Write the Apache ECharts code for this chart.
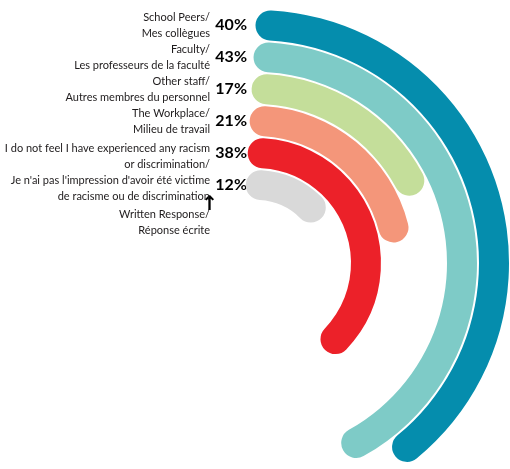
<!DOCTYPE HTML>
<html>
<head>
    <meta http-equiv="content-type" content="text/html;charset=utf-8">
    <script src="https://cdn.jsdelivr.net/npm/echarts@6/dist/echarts.min.js"></script>
    <title>Racism sources</title>
    <style>
        html, body { margin: 0; padding: 0; background: #fff; }
        #main { width: 510px; height: 469px; }
    </style>
</head>
<body>
    <div id="main"></div>
    <script>
        // categories from the inner ring to the outer ring
        var cats = ['Written Response', 'No racism', 'The Workplace', 'Other staff', 'Faculty', 'School Peers'];
        var values = [12, 38, 21, 17, 43, 40];
        var colors = ['#d9d9d9', '#ec2129', '#f4967a', '#c4de9a', '#7ecbc7', '#058dad'];
        // label text, line by line
        var labelLines = [
            ['Written Response/', 'Réponse écrite'],
            ['I do not feel I have experienced any racism', 'or discrimination/', "Je n'ai pas l'impression d'avoir été victime", 'de racisme ou de discrimination'],
            ['The Workplace/', 'Milieu de travail'],
            ['Other staff/', 'Autres membres du personnel'],
            ['Faculty/', 'Les professeurs de la faculté'],
            ['School Peers/', 'Mes collègues']
        ];

        function fmtLabel(v, i) {
            var lines = labelLines[i].map(function (s) { return '{t|' + s + '}'; });
            if (i === 0) {
                // the arrow pointing to the grey bar's value
                return '{gap0| }\n{arr|↑}\n' + lines.join('\n');
            }
            if (i === 1) {
                return '{gap1| }\n' + lines.join('\n');
            }
            return lines.join('\n');
        }

        var center = [256, 263];
        var radius = [62, 254];

        var myChart = echarts.init(document.getElementById('main'));
        var option = {
            animation: false,
            // second polar only carries the percentage labels
            polar: [
                { center: center, radius: radius },
                { center: center, radius: radius }
            ],
            angleAxis: [{
                polarIndex: 0,
                type: 'value',
                // rounded caps sit inside the arc in the original, so the scale is a bit wider
                min: -1.02,
                max: 104.01,
                startAngle: 90,
                clockwise: true,
                show: false
            }, {
                polarIndex: 1,
                type: 'value',
                min: 0,
                max: 100,
                startAngle: 90,
                show: false
            }],
            radiusAxis: [{
                polarIndex: 0,
                type: 'category',
                data: cats,
                axisLine: { show: false },
                axisTick: { show: false },
                splitLine: { show: false },
                axisLabel: {
                    interval: 0,
                    margin: 38,
                    formatter: fmtLabel,
                    rich: {
                        t: { fontFamily: 'Lato', fontSize: 11, lineHeight: 16, color: '#1e1b1c', align: 'right', padding: [0, 8, 0, 0] },
                        gap0: { fontSize: 2, lineHeight: 72 },
                        gap1: { fontSize: 2, lineHeight: 38 },
                        arr: { fontFamily: 'DejaVu Sans', fontSize: 20, fontWeight: 'bold', lineHeight: 2, color: '#000', align: 'right' }
                    }
                }
            }, {
                polarIndex: 1,
                type: 'category',
                data: cats,
                axisLine: { show: false },
                axisTick: { show: false },
                splitLine: { show: false },
                axisLabel: {
                    interval: 0,
                    margin: 9,
                    formatter: function (v, i) { return values[i] + '%'; },
                    fontFamily: 'Lato',
                    fontWeight: 'bold',
                    fontSize: 16,
                    color: '#000'
                }
            }],
            series: [{
                type: 'bar',
                coordinateSystem: 'polar',
                polarIndex: 0,
                roundCap: true,
                barWidth: 30,
                data: values.map(function (v, i) {
                    return { value: v, itemStyle: { color: colors[i] } };
                })
            }]
        };
        myChart.setOption(option);
    </script>
</body>
</html>
